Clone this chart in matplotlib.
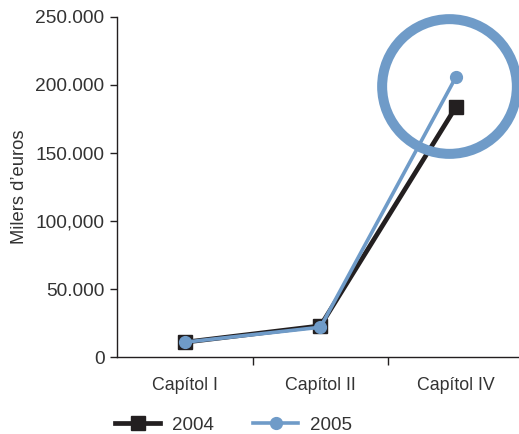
import matplotlib.pyplot as plt

plt.rcParams['font.family'] = ['Liberation Sans', 'DejaVu Sans']

# dades
capitols = ['Capítol I', 'Capítol II', 'Capítol IV']
valors_2004 = [11000, 23000, 184000]
valors_2005 = [11000, 22000, 206000]
yticks = [0, 50000, 100000, 150000, 200000, 250000]
ytick_labels = ['0', '50.000', '100,000', '150.000', '200.000', '250.000']

negre = '#231f20'
blau = '#6f9bc8'
gris = '#333333'

fig = plt.figure(figsize=(5.19, 4.34), dpi=100)
ax = fig.add_axes([0.2254, 0.177, 0.784, 0.784])

x = list(range(len(capitols)))
ax.plot(x, valors_2004, color=negre, lw=3.4, marker='s', ms=10, label='2004', zorder=3)
ax.plot(x, valors_2005, color=blau, lw=2.6, marker='o', ms=8.5, label='2005', zorder=4)

# cercle destacat al voltant del Capítol IV
ax.plot([x[2] - 0.05], [199000], marker='o', ms=97, mfc='none', mec=blau, mew=7.2,
        clip_on=False, zorder=5)

ax.set_xlim(-0.5, 2.5)
ax.set_ylim(0, 250000)
ax.set_yticks(yticks)
ax.set_yticklabels(ytick_labels, fontsize=13.8, color=gris)
ax.set_xticks([0.5, 1.5])
ax.set_xticklabels([])
ax.set_xticks(x, minor=True)
ax.set_xticklabels(capitols, minor=True, fontsize=12.8, color=gris)
ax.tick_params(axis='x', which='major', length=6, width=1, color=negre)
ax.tick_params(axis='x', which='minor', length=0, pad=14)
ax.tick_params(axis='y', length=5, width=1, color=negre, pad=4)

for s in ['top', 'right']:
    ax.spines[s].set_visible(False)
for s in ['left', 'bottom']:
    ax.spines[s].set_color(negre)
    ax.spines[s].set_linewidth(1)

ax.set_ylabel('Milers d\u2019euros', fontsize=13.2, color=gris, labelpad=5)

fig.legend(loc='center left', bbox_to_anchor=(115 / 519, 1 - 425 / 434), ncol=2,
           frameon=False, fontsize=13.5, handlelength=2.4, columnspacing=2.1,
           handletextpad=0.64, borderpad=0, borderaxespad=0, labelcolor=gris)

fig.savefig('out.png', dpi=100)
